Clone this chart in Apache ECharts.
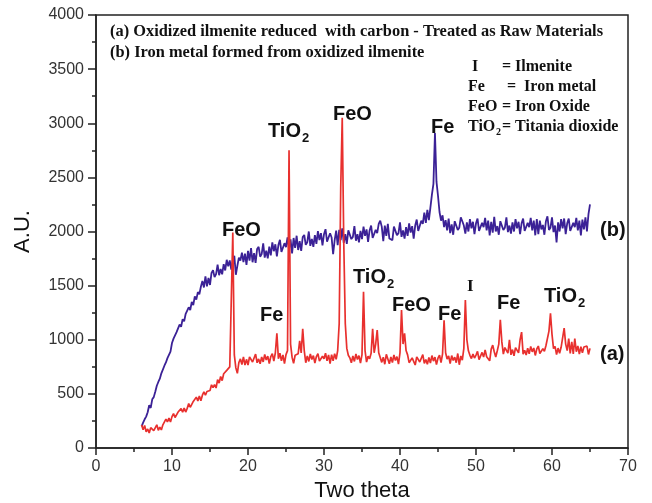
<!DOCTYPE html>
<html>
<head>
<meta charset="utf-8">
<script src="https://cdn.jsdelivr.net/npm/echarts@6/dist/echarts.min.js"></script>
<style>
  html, body { margin: 0; padding: 0; background: #fff; }
  #chart { width: 652px; height: 503px; }
</style>
</head>
<body>
<div id="chart"></div>
<script>
// scan starts at 6 deg, one reading every 0.2 deg up to 65 deg
const thetaStart = 6
const thetaStep = 0.2

// (a) oxidized ilmenite reduced with carbon, one row per degree
const countsA = [
  212, 169, 208, 149, 176,
  138, 188, 196, 161, 172,
  214, 164, 192, 167, 214,
  210, 266, 242, 276, 240,
  290, 318, 282, 286, 332,
  326, 364, 330, 370, 332,
  366, 410, 376, 382, 430,
  426, 470, 434, 480, 436,
  488, 518, 488, 522, 534,
  531, 584, 558, 586, 554,
  632, 600, 660, 622, 686,
  674, 717, 720, 749, 760,
  1990, 860, 740, 690, 790,
  823, 771, 842, 766, 819,
  767, 842, 851, 794, 806,
  868, 787, 823, 778, 841,
  795, 864, 813, 849, 780,
  845, 872, 803, 880, 1060,
  824, 875, 806, 860, 779,
  863, 900, 2750, 960, 839,
  782, 857, 866, 870, 990,
  878, 1100, 900, 788, 851,
  800, 869, 818, 854, 785,
  845, 872, 803, 794, 848,
  824, 875, 806, 860, 779,
  863, 806, 872, 820, 900,
  1150, 2400, 3050, 1900, 1150,
  920, 857, 833, 788, 851,
  800, 869, 818, 854, 785,
  863, 1444, 900, 794, 848,
  824, 875, 1100, 880, 960,
  1090, 880, 872, 791, 839,
  774, 865, 823, 778, 841,
  790, 859, 808, 844, 775,
  880, 1275, 960, 1060, 900,
  860, 788, 770, 833, 824,
  767, 842, 851, 794, 806,
  863, 782, 818, 773, 836,
  785, 854, 803, 839, 770,
  830, 857, 788, 870, 1180,
  880, 821, 851, 780, 854,
  809, 839, 788, 873, 769,
  850, 812, 920, 1367, 1000,
  898, 856, 826, 869, 831,
  858, 893, 817, 808, 883,
  840, 907, 843, 856, 805,
  913, 950, 889, 841, 898,
  960, 1184, 980, 867, 928,
  933, 876, 1000, 861, 909,
  852, 927, 936, 879, 1000,
  1070, 867, 903, 858, 921,
  870, 939, 888, 924, 855,
  915, 942, 873, 864, 918,
  894, 945, 960, 1080, 1244,
  1050, 918, 939, 864, 923,
  876, 930, 920, 1108, 960,
  900, 1010, 873, 980, 870,
  1010, 890, 942, 867, 936,
  879, 933, 915, 942, 864,
  920
]

// (b) iron metal formed from oxidized ilmenite
const countsB = [
  200, 235, 265, 290, 330,
  395, 370, 450, 470, 520,
  575, 610, 640, 690, 675,
  760, 790, 830, 815, 890,
  970, 1010, 995, 1070, 1060,
  1140, 1120, 1190, 1170, 1240,
  1250, 1300, 1275, 1350, 1320,
  1400, 1370, 1440, 1420, 1490,
  1544, 1483, 1586, 1493, 1572,
  1506, 1618, 1642, 1578, 1606,
  1694, 1596, 1654, 1604, 1698,
  1640, 1739, 1678, 1733, 1648,
  1735, 1776, 1600, 1682, 1759,
  1732, 1805, 1718, 1795, 1692,
  1821, 1731, 1846, 1716, 1801,
  1710, 1839, 1858, 1767, 1791,
  1890, 1759, 1823, 1752, 1861,
  1780, 1899, 1818, 1882, 1771,
  1875, 1923, 1811, 1799, 1892,
  1856, 1945, 1834, 1928, 1797,
  1940, 1848, 1961, 1829, 1912,
  1820, 1949, 1968, 1877, 1901,
  2000, 1868, 1931, 1859, 1967,
  1885, 2003, 1921, 1984, 1872,
  1975, 2021, 1907, 1893, 1984,
  1945, 1790, 1917, 2008, 1874,
  2015, 1920, 2030, 1895, 1975,
  1885, 2010, 2025, 1930, 1950,
  2050, 1915, 1975, 1900, 2005,
  1930, 2045, 1960, 2020, 1905,
  2010, 2055, 1940, 1925, 2015,
  1985, 2070, 2100, 2045, 1910,
  2055, 1960, 2070, 1935, 1920,
  1920, 2045, 2060, 1965, 1985,
  2085, 1950, 2010, 1935, 2040,
  1960, 2075, 1990, 2050, 1935,
  2055, 2110, 2005, 2000, 2100,
  2070, 2175, 2080, 2200, 2105,
  2220, 2340, 2440, 2910, 2460,
  2330, 2180, 2100, 2150, 2040,
  2105, 2010, 2120, 1985, 2065,
  1970, 2095, 2110, 2015, 2035,
  2130, 2095, 2055, 1980, 2085,
  2000, 2115, 2030, 2090, 1975,
  2075, 2120, 2005, 1990, 2080,
  2040, 2125, 2010, 2100, 1965,
  2090, 1990, 2135, 2000, 2050,
  1970, 2095, 2110, 2015, 2035,
  2130, 1995, 2055, 1980, 2085,
  2000, 2115, 2030, 2090, 1975,
  2075, 2120, 2005, 1990, 2080,
  2040, 2125, 2010, 2100, 1965,
  2115, 1975, 2100, 2020, 2060,
  1970, 2095, 2140, 2015, 2035,
  2130, 1995, 2055, 1900, 2085,
  2000, 2115, 2030, 2120, 1975,
  2075, 2120, 2005, 1990, 2080,
  2040, 2125, 2010, 2100, 1965,
  2110, 2020, 2130, 2000, 2160,
  2250
]

const xTicks = [0, 10, 20, 30, 40, 50, 60, 70]
const yTicks = [0, 500, 1000, 1500, 2000, 2500, 3000, 3500, 4000]

const legendLines = [
  '(a) Oxidized ilmenite reduced  with carbon - Treated as Raw Materials',
  '(b) Iron metal formed from oxidized ilmenite'
]
const keyItems = [
  ['I', '= Ilmenite'],
  ['Fe', '=  Iron metal'],
  ['FeO', '= Iron Oxide'],
  ['TiO', '= Titania dioxide']
]

// [label, subscript, left px, mid px]
const peakLabels = [
  ['FeO', '', 222, 230],
  ['TiO', '2', 268, 131],
  ['FeO', '', 333, 114],
  ['Fe', '', 431, 127],
  ['TiO', '2', 353, 277],
  ['Fe', '', 260, 315],
  ['FeO', '', 392, 305],
  ['Fe', '', 438, 314],
  ['Fe', '', 497, 303],
  ['TiO', '2', 544, 296],
  ['(b)', '', 600, 230],
  ['(a)', '', 600, 354]
]

const toPairs = (vals) => vals.map((v, i) => [+(thetaStart + i * thetaStep).toFixed(1), v])

const sans = 'Liberation Sans, Arial, sans-serif'
const serif = 'Liberation Serif, Times New Roman, serif'

const graphics = []
legendLines.forEach((t, i) => {
  graphics.push({
    type: 'text', left: 110, top: 24 + i * 21,
    style: { text: t, font: 'bold 16.4px ' + serif, fill: '#111' }
  })
})
keyItems.forEach((k, i) => {
  graphics.push({
    type: 'text', left: k[0] === 'I' ? 472 : 468, top: 59 + i * 20,
    style: { text: k[0], font: 'bold 16px ' + serif, fill: '#111' }
  })
  if (k[0] === 'TiO') {
    graphics.push({
      type: 'text', left: 496, top: 127,
      style: { text: '2', font: 'bold 10px ' + serif, fill: '#111' }
    })
  }
  graphics.push({
    type: 'text', left: k[0] === 'Fe' ? 507 : 502, top: 59 + i * 20,
    style: { text: k[1], font: 'bold 16px ' + serif, fill: '#111' }
  })
})
peakLabels.forEach((p) => {
  graphics.push({
    type: 'text', x: p[2], y: p[3],
    style: { text: p[0], font: 'bold 20px ' + sans, fill: '#111', verticalAlign: 'middle' }
  })
  if (p[1]) {
    graphics.push({
      type: 'text', x: p[2] + 34, y: p[3] + 7,
      style: { text: p[1], font: 'bold 13px ' + sans, fill: '#111', verticalAlign: 'middle' }
    })
  }
})
// ilmenite marker is set in serif
graphics.push({
  type: 'text', x: 467, y: 287,
  style: { text: 'I', font: 'bold 17px ' + serif, fill: '#111', verticalAlign: 'middle' }
})

const chart = echarts.init(document.getElementById('chart'))
chart.setOption({
  animation: false,
  backgroundColor: '#fff',
  grid: {
    left: 96, right: 24, top: 15, bottom: 55,
    outerBoundsMode: 'none',
    show: true, borderColor: '#222', borderWidth: 1.5
  },
  xAxis: {
    type: 'value',
    min: xTicks[0], max: xTicks[xTicks.length - 1], interval: 10,
    name: 'Two theta', nameLocation: 'middle', nameGap: 31,
    nameTextStyle: { fontFamily: sans, fontSize: 22, color: '#111' },
    axisLine: { lineStyle: { color: '#222', width: 1.5 } },
    axisTick: { length: 7, lineStyle: { color: '#222', width: 1.5 } },
    minorTick: { show: true, splitNumber: 2, length: 4, lineStyle: { color: '#222', width: 1.5 } },
    axisLabel: { fontFamily: sans, fontSize: 16, color: '#333', margin: 11, formatter: (v) => String(v) },
    splitLine: { show: false }
  },
  yAxis: {
    type: 'value',
    min: yTicks[0], max: yTicks[yTicks.length - 1], interval: 500,
    name: 'A.U.', nameLocation: 'middle', nameGap: 62,
    nameTextStyle: { fontFamily: sans, fontSize: 22, color: '#111' },
    axisLine: { show: true, lineStyle: { color: '#222', width: 1.5 } },
    axisTick: { show: true, length: 8, lineStyle: { color: '#222', width: 1.5 } },
    minorTick: { show: true, splitNumber: 2, length: 4, lineStyle: { color: '#222', width: 1.5 } },
    axisLabel: { fontFamily: sans, fontSize: 16, color: '#333', margin: 12, formatter: (v) => String(v) },
    splitLine: { show: false }
  },
  series: [
    {
      name: '(b)', type: 'line', data: toPairs(countsB),
      showSymbol: false, lineStyle: { color: '#3b2196', width: 1.8 }
    },
    {
      name: '(a)', type: 'line', data: toPairs(countsA),
      showSymbol: false, lineStyle: { color: '#e8302e', width: 1.7 }
    }
  ],
  graphic: graphics
})
</script>
</body>
</html>
